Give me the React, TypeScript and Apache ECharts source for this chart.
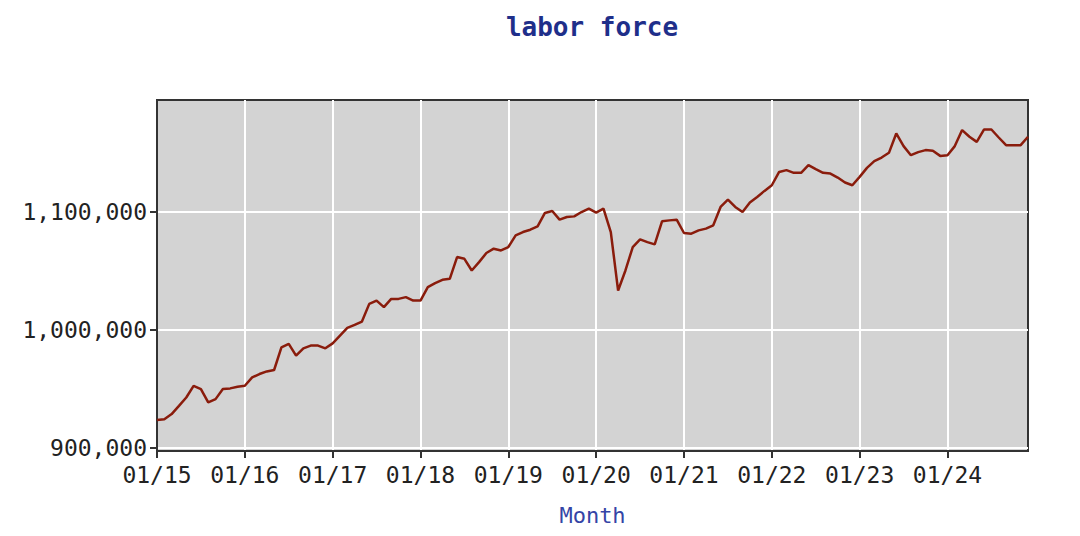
import React, { useEffect, useRef } from "react";
import * as echarts from "echarts";

// Monthly labor force, Jan 2015 .. Dec 2024
const laborForce = [
  923500, 924300, 928600, 935600, 942700, 952600, 949800, 938500, 941300, 949800, 950400, 951800,
  952600, 959700, 962600, 964800, 966000, 985200, 988100, 978200, 984400, 986700, 986700, 984400,
  988600, 995200, 1001700, 1004200, 1007100, 1022100, 1024900, 1019300, 1026300, 1026300, 1027800, 1024900,
  1024900, 1036300, 1039700, 1042500, 1043300, 1061800, 1060300, 1050400, 1057500, 1065200, 1068900, 1067400,
  1070300, 1080200, 1083000, 1085000, 1087800, 1099200, 1100900, 1093500, 1095800, 1096300, 1100000, 1102900,
  1099500, 1102900, 1083000, 1033400, 1050400, 1070300, 1076800, 1074500, 1072500, 1092100, 1092900, 1093500,
  1082200, 1081600, 1084400, 1085900, 1088700, 1104300, 1110500, 1104300, 1100000, 1108000, 1112800, 1117900,
  1122700, 1134000, 1135500, 1133200, 1133200, 1139700, 1136300, 1133200, 1132600, 1129200, 1125000, 1122700,
  1129800, 1137400, 1143100, 1146200, 1150200, 1166600, 1155900, 1148200, 1150800, 1152500, 1151900, 1147600,
  1148200, 1155900, 1169500, 1163800, 1159500, 1170000, 1170000, 1163200, 1156700, 1156700, 1156700, 1163800,
];

const startYear = 2015;
const months: string[] = laborForce.map((_, i) => {
  const m = (i % 12) + 1;
  const y = (startYear + Math.floor(i / 12)) % 100;
  return `${String(m).padStart(2, "0")}/${String(y).padStart(2, "0")}`;
});

const yTicks = [900000, 1000000, 1100000];

const MONO = "'DejaVu Sans Mono', monospace";

const App = () => {
  const chartRef = useRef<HTMLDivElement | null>(null);

  useEffect(() => {
    if (!chartRef.current) return;
    const chart = echarts.init(chartRef.current, null, { renderer: "svg" });

    chart.setOption({
      animation: false,
      title: {
        text: "labor force",
        left: 587,
        textAlign: "center",
        top: 9,
        textStyle: {
          fontFamily: MONO,
          fontSize: 26,
          fontWeight: "bold",
          color: "#1f2f8a",
        },
      },
      grid: {
        left: 157,
        right: 52,
        top: 100,
        bottom: 85,
        show: true,
        backgroundColor: "#d3d3d3",
        borderColor: "#333",
        borderWidth: 2,
      },
      xAxis: {
        type: "category",
        data: months,
        boundaryGap: false,
        name: "Month",
        nameLocation: "middle",
        nameGap: 53,
        nameTextStyle: { fontFamily: MONO, fontSize: 22, color: "#3444a6" },
        axisLine: { lineStyle: { color: "#333", width: 2 } },
        axisTick: { interval: 11, length: 7, lineStyle: { color: "#333", width: 2 } },
        axisLabel: {
          interval: 11,
          margin: 12,
          fontFamily: MONO,
          fontSize: 23,
          color: "#222",
        },
        splitLine: { show: true, interval: 11, lineStyle: { color: "#ffffff", width: 2 } },
      },
      yAxis: {
        type: "value",
        min: 897300,
        max: 1195000,
        axisLine: { show: true, lineStyle: { color: "#333", width: 2 } },
        axisTick: { show: true, length: 7, customValues: yTicks, lineStyle: { color: "#333", width: 2 } },
        axisLabel: {
          customValues: yTicks,
          margin: 10,
          fontFamily: MONO,
          fontSize: 23,
          color: "#222",
          formatter: (v: number) => v.toLocaleString("en-US"),
        },
        splitLine: { show: true, lineStyle: { color: "#ffffff", width: 2 } },
      },
      series: [
        {
          type: "line",
          data: laborForce,
          showSymbol: false,
          lineStyle: { color: "#8a1c0c", width: 2.5 },
        },
      ],
    });

    return () => {
      chart.dispose();
    };
  }, []);

  return <div ref={chartRef} style={{ width: 1080, height: 536, margin: -8 }}></div>;
};

export default App;
